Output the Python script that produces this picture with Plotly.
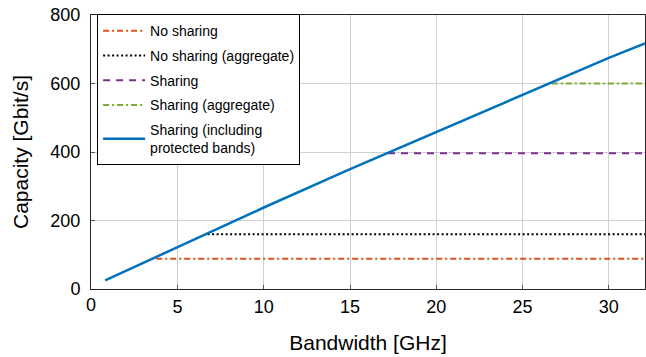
import plotly.graph_objects as go

# Data
bw_full = [0.8, 5, 10, 15, 20, 25, 30, 32.1]
cap_full = [25, 122, 238, 350, 459, 567, 675, 717]

nosh_x = [3.76, 32.1]
nosh_y = [88, 88]
nosh_agg_x = [6.74, 32.1]
nosh_agg_y = [160, 160]
sh_x = [17.2, 32.1]
sh_y = [396, 396]
sh_agg_x = [26.7, 32.1]
sh_agg_y = [600, 600]

x_ticks = [0, 5, 10, 15, 20, 25, 30]
x_tick_labels = ["0", "5", "10", "15", "20", "25", "30"]
y_ticks = [0, 200, 400, 600, 800]

FONT = "Liberation Sans, Arial, Helvetica, sans-serif"

fig = go.Figure()
fig.add_trace(go.Scatter(x=nosh_x, y=nosh_y, mode="lines", name="No sharing", legendgroup="a",
                         line=dict(color="#D95319", width=2, dash="6px,3px,2px,3px")))
fig.add_trace(go.Scatter(x=nosh_agg_x, y=nosh_agg_y, mode="lines", name="No sharing (aggregate)",
                         legendgroup="b",
                         line=dict(color="#000000", width=2, dash="2px,2.5px")))
fig.add_trace(go.Scatter(x=sh_x, y=sh_y, mode="lines", name="Sharing", legendgroup="c",
                         line=dict(color="#7E2F8E", width=2, dash="7px,6px")))
fig.add_trace(go.Scatter(x=sh_agg_x, y=sh_agg_y, mode="lines", name="Sharing (aggregate)",
                         legendgroup="d",
                         line=dict(color="#77AC30", width=2, dash="6px,3px,2px,3px")))
fig.add_trace(go.Scatter(x=bw_full, y=cap_full, mode="lines", legendgroup="e",
                         name="Sharing (including<br>protected bands)",
                         line=dict(color="#0072BD", width=2.5)))

fig.update_layout(
    width=646, height=357,
    margin=dict(l=91, r=1, t=15, b=68, autoexpand=False),
    paper_bgcolor="white", plot_bgcolor="white",
    font=dict(family=FONT, color="#000000"),
    showlegend=True,
    legend=dict(x=0.011, y=1.003, xanchor="left", yanchor="top",
                bgcolor="white", bordercolor="#000000", borderwidth=1,
                font=dict(size=14, family=FONT), tracegroupgap=3.5,
                itemwidth=42),
    xaxis=dict(range=[-0.02, 32.1], tickvals=x_ticks,
               ticktext=[""] + x_tick_labels[1:],
               showgrid=True, gridcolor="#d0d0d0",
               gridwidth=1, zeroline=False, showline=True, linecolor="#262626",
               linewidth=1, mirror=True, ticks="inside", ticklen=4, tickcolor="#555",
               automargin=False, ticklabeloverflow="allow", ticklabelstandoff=1,
               tickfont=dict(size=18), title=dict(text="Bandwidth [GHz]", font=dict(size=21), standoff=19)),
    yaxis=dict(range=[0, 800], tickvals=y_ticks, showgrid=True, gridcolor="#d0d0d0",
               gridwidth=1, zeroline=False, showline=True, linecolor="#262626",
               linewidth=1, mirror=True, ticks="inside", ticklen=4, tickcolor="#555",
               automargin=False, ticklabeloverflow="allow", ticklabelstandoff=6,
               tickfont=dict(size=18), title=dict(text="Capacity [Gbit/s]", font=dict(size=21), standoff=16)),
)

# the origin label of the x axis, drawn as an annotation so it stays visible
fig.add_annotation(x=x_ticks[0], xref="x", y=0, yref="paper", yanchor="top",
                   yshift=-4, text=x_tick_labels[0], showarrow=False,
                   font=dict(size=18, family=FONT, color="#000000"))

# remove the browser's default body margin so the figure fills the window exactly
fig.write_html("out.html", config={"displayModeBar": False, "staticPlot": True},
               post_script="document.body.style.margin='0';document.body.style.overflow='hidden';")
